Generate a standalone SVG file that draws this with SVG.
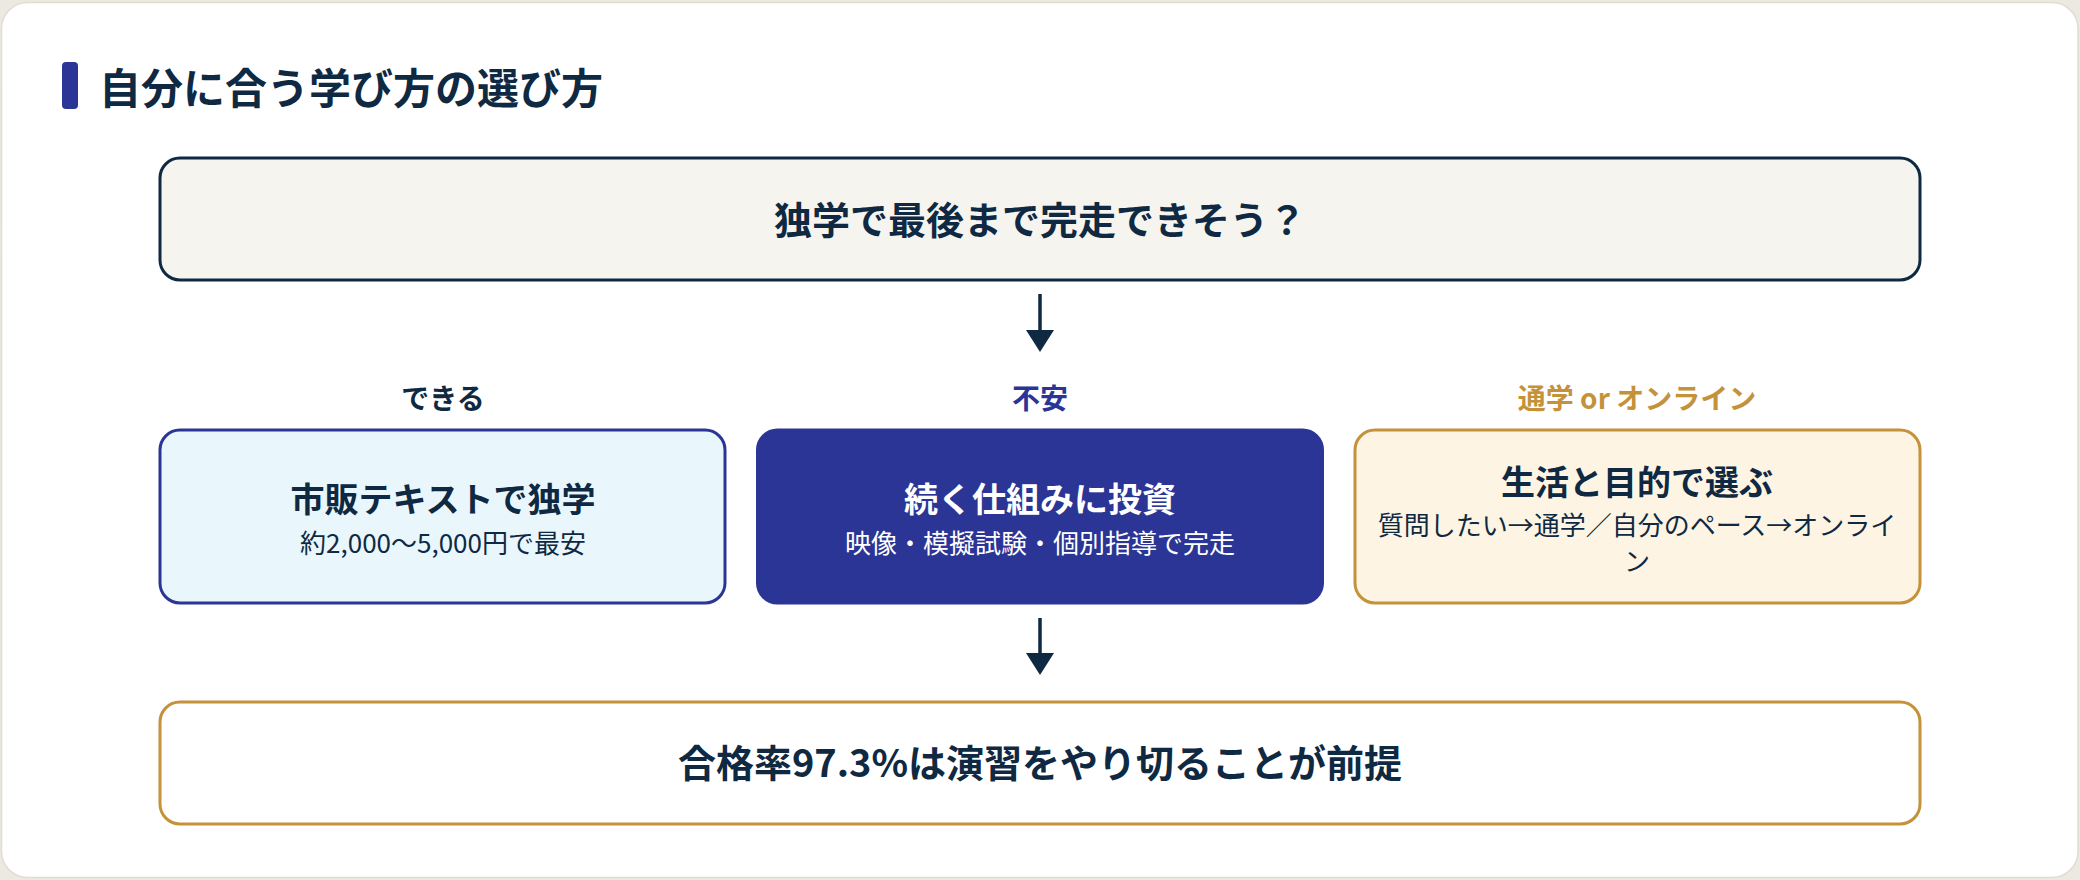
<svg xmlns="http://www.w3.org/2000/svg" width="2080" height="880" viewBox="0 0 2080 880">
  <defs>
    <style>
      text { font-family: "Noto Sans CJK JP", "Noto Sans", sans-serif; }
      .navy { fill: #0f2942; }
      .b { font-weight: 700; }
      .r { font-weight: 400; }
      .c { text-anchor: middle; }
      .box { stroke-width: 3; }
      .conn { stroke: #0f2942; stroke-width: 3.5; fill: none; }
      .head { fill: #0f2942; }
    </style>
  </defs>

  <rect x="0" y="0" width="2080" height="880" fill="#ebe9e1"/>
  <rect x="1.5" y="2.5" width="2076.5" height="875" rx="26" fill="#ffffff" stroke="#e0ddd1" stroke-width="1.5"/>

  <g id="title">
    <rect x="62" y="62" width="16" height="47" rx="4" fill="#2b3595"/>
    <text x="99" y="104" class="navy b" font-size="42">自分に合う学び方の選び方</text>
  </g>

  <g id="connectors">
    <line x1="1040" y1="294" x2="1040" y2="332" class="conn"/>
    <path d="M1026,330 L1054,330 L1040,352 Z" class="head"/>
    <line x1="1040" y1="618" x2="1040" y2="655" class="conn"/>
    <path d="M1026,653 L1054,653 L1040,675 Z" class="head"/>
  </g>

  <g id="question">
    <rect x="160" y="158" width="1760" height="122" rx="20" fill="#f5f4ef" stroke="#0f2942" class="box"/>
    <text x="1040" y="234" class="navy b c" font-size="38">独学で最後まで完走できそう？</text>
  </g>

  <g id="label-yes">
    <text x="443" y="409" class="navy b c" font-size="28">できる</text>
  </g>
  <g id="label-anxious">
    <text x="1040" y="409" class="b c" font-size="28" fill="#2b3595">不安</text>
  </g>
  <g id="label-choice">
    <text x="1637" y="409" class="b c" font-size="28" fill="#c4923a">通学 or オンライン</text>
  </g>

  <g id="self-study">
    <rect x="160" y="430" width="565" height="173" rx="20" fill="#e9f7fd" stroke="#2b3595" class="box"/>
    <text x="443" y="512" class="navy b c" font-size="34">市販テキストで独学</text>
    <text x="443" y="553" class="navy r c" font-size="26">約2,000〜5,000円で最安</text>
  </g>

  <g id="invest">
    <rect x="757.5" y="430" width="565" height="173" rx="20" fill="#2b3595" stroke="#2b3595" class="box"/>
    <text x="1040" y="512" class="b c" font-size="34" fill="#ffffff">続く仕組みに投資</text>
    <text x="1040" y="553" class="r c" font-size="26" fill="#ffffff">映像・模擬試験・個別指導で完走</text>
  </g>

  <g id="lifestyle">
    <rect x="1355" y="430" width="565" height="173" rx="20" fill="#fdf4e4" stroke="#c4923a" class="box"/>
    <text x="1637" y="495" class="navy b c" font-size="34">生活と目的で選ぶ</text>
    <text x="1637" y="535" class="navy r c" font-size="26">質問したい→通学／自分のペース→オンライ</text>
    <text x="1637" y="571" class="navy r c" font-size="26">ン</text>
  </g>

  <g id="premise">
    <rect x="160" y="702" width="1760" height="122" rx="20" fill="#ffffff" stroke="#c4923a" class="box"/>
    <text x="1040" y="777" class="navy b c" font-size="38">合格率97.3%は演習をやり切ることが前提</text>
  </g>
</svg>
